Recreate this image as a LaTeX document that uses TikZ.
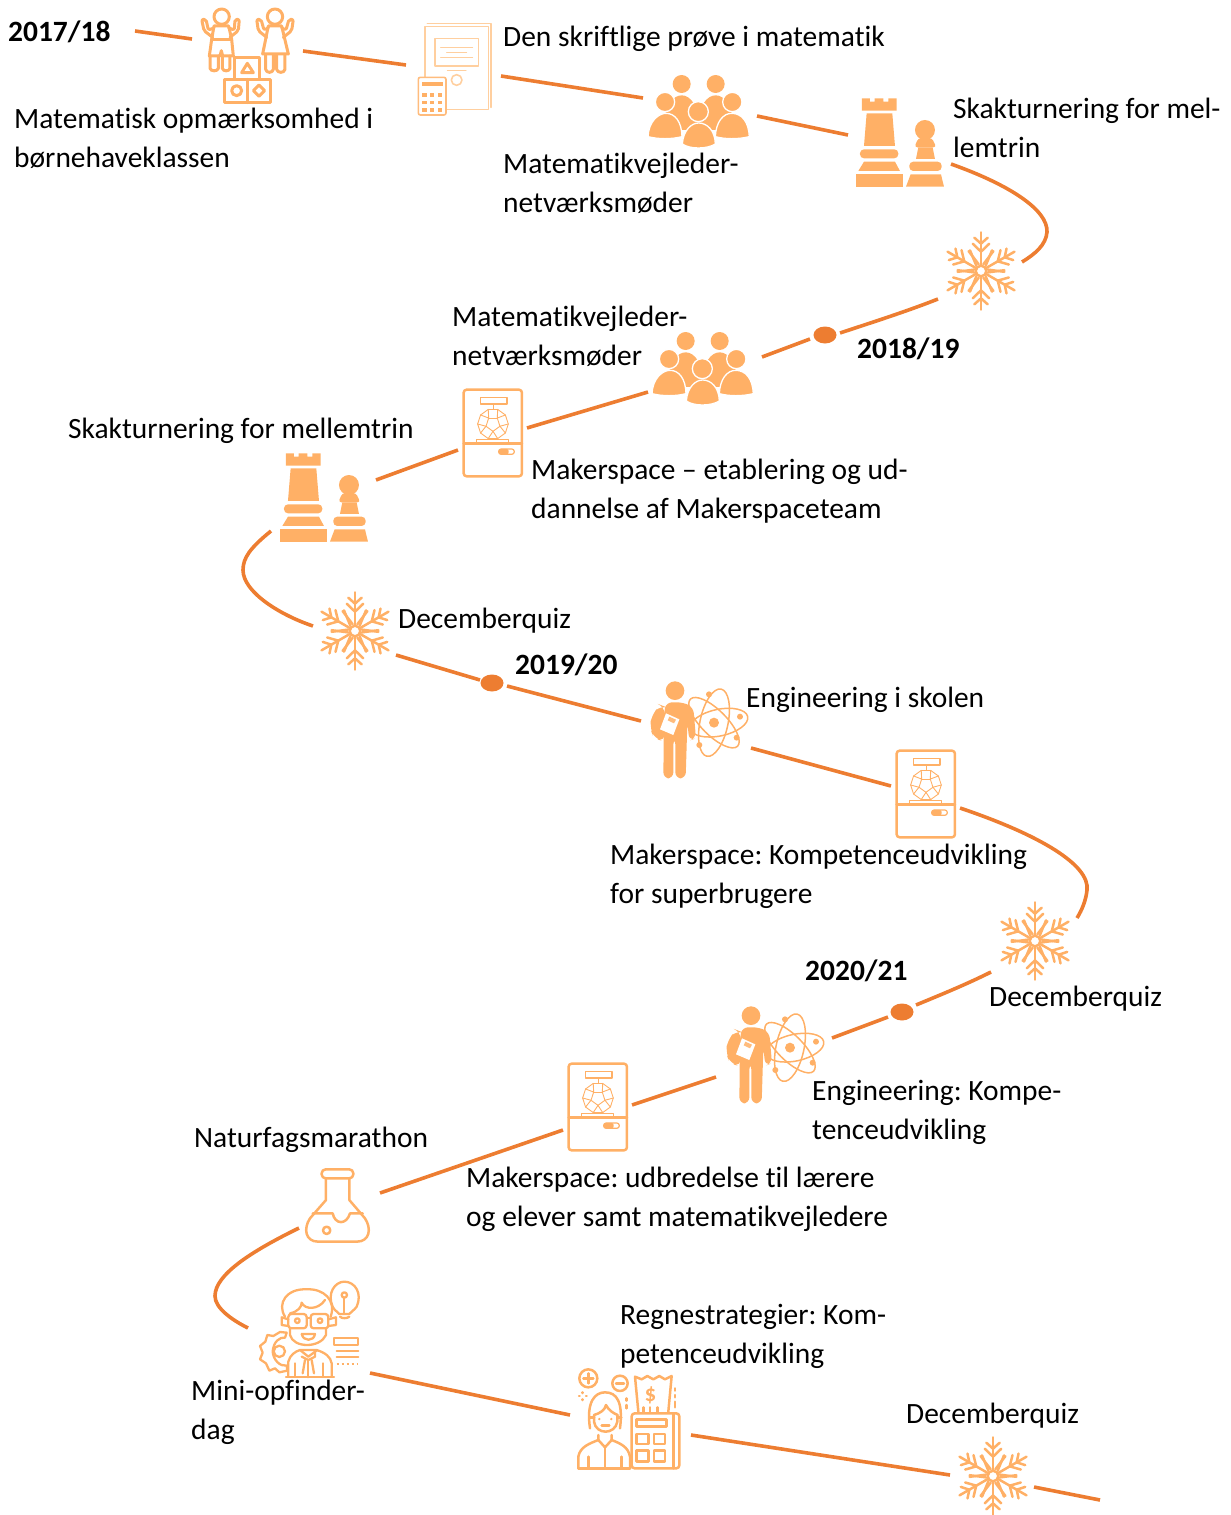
\documentclass[tikz,border=0pt]{standalone}
\usepackage{fontspec}
\setmainfont{Carlito}[Ligatures=NoCommon]
\usetikzlibrary{shapes.geometric,calc}
\definecolor{route}{HTML}{ED7D31}
\definecolor{icon}{HTML}{FFB066}
\definecolor{iconlight}{HTML}{FFCF9F}
\newcommand{\lblfont}{\frenchspacing\fontsize{29.45}{38.3}\selectfont}
\tikzset{
 x=1pt,y=-1pt,
 routeline/.style={draw=route,line width=3.6pt},
 dotnode/.style={ellipse,fill=route,inner sep=0pt,minimum width=23pt,minimum height=17pt},
 lbl/.style={anchor=base west,inner sep=0pt,align=left,text=black,font=\lblfont,yshift=-1pt},
 yearlbl/.style={anchor=base west,inner sep=0pt,text=black,font=\lblfont\bfseries},
 ic/.style={draw=icon,line width=2.5pt,line join=round,line cap=round},
 icf/.style={fill=icon,draw=none},
 zoomed/.style={x=.3333pt,y=-.3333pt},
 halo/.style={fill=icon,draw=white,line width=1.3pt},
 pics/chess/.style={code={
  \begin{scope}[zoomed]
   \fill[icon] (666,115)--(690,115)--(690,125)--(704,125)--(704,115)--(730,115)--(730,125)--(745,125)--(745,115)--(770,115)--(770,152)--(666,152)--cycle;
   \fill[icon] (680,160)--(757,160)--(765,258)--(672,258)--cycle;
   \fill[icon,rounded corners=4pt] (660,268) rectangle (775,295);
   \fill[icon] (672,305)--(765,305)--(780,333)--(655,333)--cycle;
   \fill[icon] (647,343) rectangle (790,380);
   \fill[icon] (855,210) circle (30);
   \fill[icon,rounded corners=3pt] (835,234)--(876,234)--(889,262)--(823,262)--cycle;
   \fill[icon] (835,262)--(878,262)--(885,297)--(828,297)--cycle;
   \fill[icon,rounded corners=4pt] (808,305) rectangle (905,333);
   \fill[icon] (812,343)--(903,343)--(912,380)--(798,380)--cycle;
  \end{scope}}},
 pics/people/.style={code={
  \begin{scope}[zoomed]
   \fill[icon] (125,72) circle (27);
   \fill[icon] (227,72) circle (27);
   \fill[icon] (70,210) .. controls (72,135) and (100,106) .. (125,106) .. controls (150,106) and (178,135) .. (180,210) -- cycle;
   \fill[icon] (172,210) .. controls (174,135) and (202,106) .. (227,106) .. controls (252,106) and (280,135) .. (282,210) -- cycle;
   \filldraw[halo] (75,126) circle (29);
   \filldraw[halo] (277,126) circle (29);
   \filldraw[halo] (24,230) .. controls (26,185) and (55,160) .. (78,160) .. controls (105,160) and (125,185) .. (126,230) .. controls (95,238) and (55,238) .. (24,230) -- cycle;
   \filldraw[halo] (226,230) .. controls (228,185) and (250,160) .. (275,160) .. controls (305,160) and (326,185) .. (328,230) .. controls (295,238) and (255,238) .. (226,230) -- cycle;
   \filldraw[halo] (175,155) circle (30);
   \filldraw[halo] (127,252) .. controls (130,210) and (155,189) .. (176,189) .. controls (200,189) and (225,210) .. (226,252) .. controls (200,268) and (150,268) .. (127,252) -- cycle;
  \end{scope}}},
 pics/flake/.style={code={
  \begin{scope}[zoomed]
   \draw[ic] (0,0) circle (16);
   \foreach \a in {0,60,...,300}{
    \begin{scope}[rotate=\a]
     \draw[ic] (0,-17)--(0,-116);
     \draw[ic] (-20,-100)--(0,-82)--(20,-100);
     \draw[ic] (-25,-82)--(0,-58)--(25,-82);
     \draw[ic] (-33,-62)--(-14,-16);
     \draw[ic] (33,-62)--(14,-16);
    \end{scope}}
  \end{scope}}},
 pics/printer/.style={code={
  \begin{scope}[zoomed]
   \draw[ic,rounded corners=3pt] (770,242) rectangle (945,502);
   \draw[ic] (770,404)--(945,404);
   \draw[ic,line width=1.2pt] (820,265) rectangle (900,285);
   \draw[ic,line width=1.2pt] (860,285)--(860,300);
   \draw[ic,line width=1.2pt] (808,392)--(808,402)--(905,402)--(905,392)--cycle;
   \begin{scope}[shift={(858,345)}]
    \foreach \a in {0,36,...,324}{\draw[ic,line width=.9pt] (\a:46)--(\a+36:46);}
    \foreach \a in {18,90,162,234,306}{
     \draw[ic,line width=.9pt] (\a:22)--(\a+72:22);
     \draw[ic,line width=.9pt] (\a:22)--(\a-18:46);
     \draw[ic,line width=.9pt] (\a:22)--(\a+18:46);
    }
   \end{scope}
   \fill[icon,rounded corners=2pt] (875,420) rectangle (905,436);
   \draw[ic,line width=1.2pt,rounded corners=2.5pt] (875,420) rectangle (922,436);
  \end{scope}}},
 pics/engineer/.style={code={
  \begin{scope}[zoomed]
   \fill[icon] (105,62) circle (28);
   \fill[icon,rounded corners=8pt] (62,105) -- (34,135) -- (30,175) -- (42,205) -- (75,215) -- (75,110) -- cycle;
   \fill[icon,rounded corners=6pt] (78,97) -- (130,97) -- (160,112) -- (168,205) -- (148,212) -- (142,160) -- (137,325) -- (106,325) -- (106,205) -- (100,205) -- (100,325) -- (70,325) -- (72,130) -- cycle;
   \fill[white] (78,130)--(118,148)--(100,195)--(60,178)--cycle;
   \fill[icon!85!white] (88,140)--(108,149)--(102,160)--(83,151)--cycle;
   \draw[ic,line width=1.5pt,rotate around={12:(237,158)}] (237,158) ellipse (88 and 40);
   \draw[ic,line width=1.5pt,rotate around={78:(222,158)}] (222,158) ellipse (103 and 42);
   \draw[ic,line width=1.5pt,rotate around={135:(222,158)}] (222,158) ellipse (100 and 38);
   \fill[icon] (222,158) circle (15);
   \fill[icon] (207,73) circle (9);
   \fill[icon] (300,140) circle (9);
   \fill[icon] (290,203) circle (9);
   \fill[icon] (178,225) circle (9);
  \end{scope}}},
}
\begin{document}
\begin{tikzpicture}
\useasboundingbox (0,0) rectangle (1231,1515);
% ---- named ends of the route
\coordinate (start) at (135,31);
\coordinate (kidsIn) at (192,39);
\coordinate (kidsOut) at (303,51);
\coordinate (docIn) at (406,65);
\coordinate (docOut) at (501,76);
\coordinate (peopleAIn) at (643,98);
\coordinate (peopleAOut) at (757,116);
\coordinate (chessAIn) at (848,135);
\coordinate (chessAOut) at (951,164);
\coordinate (flakeAIn) at (1022,262);
\coordinate (flakeAOut) at (938,299);
\coordinate (dotAIn) at (840,333);
\coordinate (dotAOut) at (810,339);
\coordinate (peopleBIn) at (762,357);
\coordinate (peopleBOut) at (648,392);
\coordinate (printerAIn) at (527,428);
\coordinate (printerAOut) at (458,450);
\coordinate (chessBIn) at (376,480);
\coordinate (chessBOut) at (271,531);
\coordinate (flakeBIn) at (313,626);
\coordinate (flakeBOut) at (396,655);
\coordinate (dotBIn) at (480,680);
\coordinate (dotBOut) at (507,686);
\coordinate (engAIn) at (641,721);
\coordinate (engAOut) at (751,748);
\coordinate (printerBIn) at (891,786);
\coordinate (printerBOut) at (960,808);
\coordinate (flakeCIn) at (1077,918);
\coordinate (flakeCOut) at (991,972);
\coordinate (dotCIn) at (916,1005);
\coordinate (dotCOut) at (888,1017);
\coordinate (engBIn) at (832,1038);
\coordinate (engBOut) at (716,1077);
\coordinate (printerCIn) at (632,1105);
\coordinate (printerCOut) at (563,1130);
\coordinate (flaskIn) at (380,1193);
\coordinate (flaskOut) at (299,1228);
\coordinate (inventorIn) at (248,1328);
\coordinate (inventorOut) at (370,1373);
\coordinate (accIn) at (570,1415);
\coordinate (accOut) at (691,1435);
\coordinate (flakeDIn) at (950,1475);
\coordinate (flakeDOut) at (1034,1487);
\coordinate (finish) at (1100,1500);
% ---- dots
\node[dotnode] (dotA) at (825,335) {};
\node[dotnode] (dotB) at (492,683) {};
\node[dotnode] (dotC) at (902,1012) {};
% ---- route
\draw[routeline] (start)--(kidsIn);
\draw[routeline] (kidsOut)--(docIn);
\draw[routeline] (docOut)--(peopleAIn);
\draw[routeline] (peopleAOut)--(chessAIn);
\draw[routeline] (chessAOut) .. controls (1010,185) and (1048,210) .. (1047,232) .. controls (1046,245) and (1035,254) .. (flakeAIn);
\draw[routeline] (flakeAOut) .. controls (905,312) and (870,323) .. (dotAIn);
\draw[routeline] (dotAOut)--(peopleBIn);
\draw[routeline] (peopleBOut)--(printerAIn);
\draw[routeline] (printerAOut)--(chessBIn);
\draw[routeline] (chessBOut) .. controls (250,548) and (243,558) .. (243,570) .. controls (243,592) and (280,615) .. (flakeBIn);
\draw[routeline] (flakeBOut)--(dotBIn);
\draw[routeline] (dotBOut)--(engAIn);
\draw[routeline] (engAOut)--(printerBIn);
\draw[routeline] (printerBOut) .. controls (1040,835) and (1090,865) .. (1087,890) .. controls (1086,900) and (1082,910) .. (flakeCIn);
\draw[routeline] (flakeCOut) .. controls (965,985) and (940,995) .. (dotCIn);
\draw[routeline] (dotCOut)--(engBIn);
\draw[routeline] (engBOut)--(printerCIn);
\draw[routeline] (printerCOut)--(flaskIn);
\draw[routeline] (flaskOut) .. controls (250,1252) and (215,1275) .. (215,1296) .. controls (215,1308) and (232,1320) .. (inventorIn);
\draw[routeline] (inventorOut)--(accIn);
\draw[routeline] (accOut)--(flakeDIn);
\draw[routeline] (flakeDOut)--(finish);
% ---- repeated icons
\pic at (640,60) {chess};
\pic at (64,415) {chess};
\pic at (640,60) {people};
\pic at (644,317) {people};
\pic at (981,271) {flake};
\pic at (355,631) {flake};
\pic at (1035,941) {flake};
\pic at (993,1476) {flake};
\pic at (640,670) {printer};
\pic at (207,309) {printer};
\pic at (312,983) {printer};
\pic at (640,670) {engineer};
\pic at (716,995) {engineer};
% ---- kids
\begin{scope}[shift={(190,0)},zoomed]
 \begin{scope}[ic/.append style={line width=3pt}]
 \draw[ic] (95,50) circle (23);
 \draw[ic] (255,50) circle (23);
 \draw[ic,rounded corners=2pt] (72,84)--(55,90)--(48,58)--(35,58)--(42,92)--(68,112);
 \draw[ic,rounded corners=2pt] (116,84)--(133,90)--(135,58)--(148,58)--(145,92)--(120,112);
 \draw[ic] (72,78)--(116,78)--(125,118)--(130,168)--(98,168)--(94,152)--(90,168)--(58,168)--(65,118)--cycle;
 \draw[ic] (65,118)--(125,118);
 \draw[ic] (60,168)--(60,205) .. controls (62,215) and (83,215) .. (85,205) -- (85,168);
 \draw[ic] (97,168)--(97,205) .. controls (99,215) and (118,215) .. (120,205) -- (120,168);
 \draw[ic,rounded corners=2pt] (235,84)--(222,90)--(213,58)--(200,58)--(205,92)--(230,112);
 \draw[ic,rounded corners=2pt] (275,84)--(288,90)--(297,58)--(310,58)--(305,92)--(280,112);
 \draw[ic] (235,78)--(275,78)--(295,162)--(218,162)--cycle;
 \draw[ic] (227,165)--(227,208) .. controls (229,220) and (248,220) .. (250,208) -- (250,165);
 \draw[ic] (260,165)--(260,208) .. controls (262,220) and (283,220) .. (285,208) -- (285,165);
 \fill[white] (135,172) rectangle (210,238);
 \draw[ic] (135,172) rectangle (210,238);
 \draw[ic] (155,218)--(190,218)--(172,190)--cycle;
 \draw[ic] (105,238) rectangle (243,308);
 \draw[ic] (172,238)--(172,308);
 \draw[ic] (140,272) circle (15);
 \draw[ic] (207,255)--(224,272)--(207,289)--(190,272)--cycle;
 \end{scope}
% ---- document and calculator
 \begin{scope}[ic/.append style={draw=iconlight,line width=1.6pt}]
  \draw[ic] (712,70)--(903,70)--(903,322);
  \draw[ic] (705,80) rectangle (895,328);
  \draw[ic] (735,115) rectangle (865,198);
  \draw[ic,line width=1.1pt] (752,142)--(848,142);
  \draw[ic,line width=1.1pt] (770,157)--(830,157);
  \draw[ic,line width=1.1pt] (752,173)--(848,173);
  \draw[ic,line width=1.1pt] (772,212)--(828,212);
  \draw[ic] (800,240) circle (16);
 \end{scope}
 \filldraw[fill=white,draw=icon!85!white,line width=1.6pt,rounded corners=2pt] (685,232) rectangle (768,345);
 \fill[icon] (695,245) rectangle (758,258);
 \foreach \cx in {697,720,743}{\foreach \cy in {280,302,325}{\fill[icon] (\cx,\cy) rectangle (\cx+13,\cy+11);}}
\end{scope}
% ---- flask and inventor
\begin{scope}[shift={(240,1160)},zoomed]
 \draw[ic,rounded corners=4pt] (245,28) rectangle (340,55);
 \draw[ic] (258,55)--(258,120)--(210,175) .. controls (190,205) and (195,245) .. (235,245) -- (350,245) .. controls (390,245) and (395,205) .. (375,175) -- (328,120) -- (328,55);
 \draw[ic] (218,160)--(278,160) .. controls (285,195) and (320,195) .. (330,160) -- (368,160);
 \draw[ic] (260,211) circle (11);
 % inventor
 \begin{scope}[ic/.append style={line width=2.3pt}]
 \draw[ic] (135,470) .. controls (110,430) and (140,385) .. (200,388) .. controls (250,385) and (290,420) .. (272,470);
 \draw[ic] (150,460) .. controls (175,455) and (185,440) .. (185,428) .. controls (195,450) and (235,450) .. (255,420);
 \draw[ic] (150,505)--(150,525) .. controls (160,565) and (240,565) .. (258,525) -- (258,505);
 \draw[ic,rounded corners=3pt] (145,462) rectangle (200,505);
 \draw[ic,rounded corners=3pt] (212,462) rectangle (265,505);
 \draw[ic] (200,475)--(212,475);
 \draw[ic] (145,478)--(125,472)--(125,495)--(145,498);
 \draw[ic] (265,478)--(288,472)--(288,495)--(265,498);
 \draw[ic] (172,482) circle (7);
 \draw[ic] (240,482) circle (7);
 \draw[ic] (185,522)--(225,522) .. controls (222,545) and (190,545) .. (185,522);
 \draw[ic] (120,516) -- (140,518) -- (135,533) .. controls (120,530) and (100,545) .. (98,575) .. controls (100,600) and (120,620) .. (140,617) -- (142,632) -- (118,637) -- (105,625) -- (88,632) -- (78,610) -- (60,598) -- (68,578) -- (60,558) -- (76,545) -- (82,525) -- (100,528) -- cycle;
 \draw[ic] (118,574) circle (17);
 \draw[ic] (145,650)--(145,605) .. controls (150,585) and (165,575) .. (180,570) -- (230,570) .. controls (255,578) and (272,590) .. (275,610) -- (275,650);
 \draw[ic] (138,652)--(282,652);
 \draw[ic] (180,570)--(205,590)--(232,570);
 \draw[ic] (185,590)--(205,600)--(225,590)--(225,575);
 \draw[ic] (195,600)--(188,640);
 \draw[ic] (215,600)--(222,640);
 \draw[ic] (205,600)--(205,652);
 \draw[ic] (165,610)--(165,650);
 \draw[ic] (250,610)--(250,650);
 \draw[ic] (278,440) .. controls (260,400) and (285,365) .. (313,365) .. controls (345,365) and (368,400) .. (350,440) .. controls (342,452) and (332,455) .. (328,462) -- (298,462) .. controls (295,455) and (285,455) .. (278,440);
 \draw[ic] (300,470) .. controls (305,476) and (322,476) .. (328,470);
 \draw[ic] (313,405) circle (8);
 \draw[ic] (313,413)--(313,462);
 \draw[ic] (282,535) rectangle (355,555);
 \draw[ic] (290,572)--(355,572);
 \draw[ic] (290,592)--(355,592);
 \draw[ic,dash pattern=on 2pt off 3pt,line cap=butt] (290,612)--(355,612);
 \end{scope}
\end{scope}
% ---- accountant
\begin{scope}[shift={(570,1360)},zoomed]
 \draw[ic] (55,55) circle (27);
 \draw[ic] (40,55)--(70,55);
 \draw[ic] (55,40)--(55,70);
 \draw[ic] (150,70) circle (23);
 \draw[ic] (138,70)--(162,70);
 \draw[ic] (38,97)--(38,99);
 \draw[ic] (38,118)--(38,120);
 \draw[ic] (27,108)--(29,108);
 \draw[ic] (48,108)--(50,108);
 \draw[ic] (170,115)--(170,122);
 \draw[ic] (170,135)--(170,145);
 \draw[ic] (315,85)--(315,92);
 \draw[ic] (315,105)--(315,112);
 \draw[ic] (315,125)--(315,142);
 \draw[ic] (205,155)--(195,50)--(215,58)--(232,48)--(250,58)--(268,48)--(285,58)--(305,48)--(295,155);
 \node[inner sep=0pt,text=icon,font=\fontsize{23}{23}\selectfont\bfseries] (dollarSign) at (241,105) {\$};
 \draw[ic] (220,155)--(220,142);
 \draw[ic] (240,155)--(240,142);
 \draw[ic] (262,155)--(262,142);
 \draw[ic,rounded corners=3pt] (185,160) rectangle (328,325);
 \draw[ic] (310,160)--(310,325);
 \draw[ic] (200,178) rectangle (290,200);
 \draw[ic] (200,222) rectangle (235,252);
 \draw[ic] (252,222) rectangle (285,252);
 \draw[ic] (200,272) rectangle (235,305);
 \draw[ic] (252,272) rectangle (285,305);
 \draw[ic] (60,205) .. controls (48,125) and (75,97) .. (105,97) .. controls (140,97) and (160,125) .. (150,205);
 \draw[ic] (72,165) .. controls (90,160) and (105,150) .. (108,135) .. controls (115,150) and (130,160) .. (143,165);
 \draw[ic] (72,165)--(72,185) .. controls (78,225) and (135,225) .. (142,185) -- (142,165);
 \draw[ic] (60,172)--(72,172);
 \draw[ic] (142,172)--(154,172);
 \fill[icon] (88,177) circle (4);
 \fill[icon] (124,177) circle (4);
 \draw[ic] (95,197)--(118,197);
 \draw[ic] (25,325)--(25,290) .. controls (30,260) and (60,250) .. (85,240) -- (85,225);
 \draw[ic] (180,325)--(180,290) .. controls (175,260) and (150,250) .. (125,240) -- (125,225);
 \draw[ic] (25,325)--(180,325);
 \draw[ic] (85,240)--(105,262)--(125,240);
 \draw[ic] (105,262)--(105,325);
 \draw[ic] (55,290)--(55,325);
 \draw[ic] (155,290)--(155,325);
\end{scope}
% ---- labels
\node[yearlbl] (y1) at (8,41) {2017/18};
\node[yearlbl] (y2) at (857,358) {2018/19};
\node[yearlbl] (y3) at (515,674) {2019/20};
\node[yearlbl] (y4) at (805,980) {2020/21};
\node[lbl] (t1) at (14,166) {Matematisk opmærksomhed i\\børnehaveklassen};
\node[lbl] (t2) at (503,45) {Den skriftlige prøve i matematik};
\node[lbl] (t3) at (503,211) {Matematikvejleder-\\netværksmøder};
\node[lbl] (t4) at (953,156) {Skakturnering for mel-\\lemtrin};
\node[lbl] (t5) at (452,364) {Matematikvejleder-\\netværksmøder};
\node[lbl] (t6) at (531,517) {Makerspace – etablering og ud-\\dannelse af Makerspaceteam};
\node[lbl] (t7) at (68,437) {Skakturnering for mellemtrin};
\node[lbl] (t8) at (398,627) {Decemberquiz};
\node[lbl] (t9) at (746,706) {Engineering i skolen};
\node[lbl] (t10) at (610,902) {Makerspace: Kompetenceudvikling\\for superbrugere};
\node[lbl] (t11) at (989,1005) {Decemberquiz};
\node[lbl] (t12) at (812,1138) {Engineering: Kompe-\\tenceudvikling};
\node[lbl] (t13) at (194,1146) {Naturfagsmarathon};
\node[lbl] (t14) at (466,1225) {Makerspace: udbredelse til lærere\\og elever samt matematikvejledere};
\node[lbl] (t15) at (191,1438) {Mini-opfinder-\\dag};
\node[lbl] (t16) at (620,1362) {Regnestrategier: Kom-\\petenceudvikling};
\node[lbl] (t17) at (906,1422) {Decemberquiz};
\end{tikzpicture}
\end{document}
